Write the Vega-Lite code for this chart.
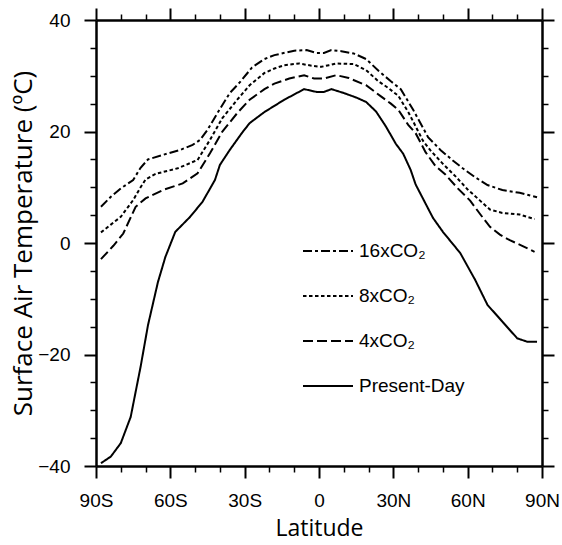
{
  "$schema": "https://vega.github.io/schema/vega-lite/v6.json",
  "width": 446,
  "height": 446,
  "autosize": "none",
  "padding": {"left": 96, "top": 20, "right": 20, "bottom": 79},
  "background": "white",
  "config": {"view": {"stroke": null}, "axis": {"grid": false, "domainColor": "black", "tickColor": "black", "labelColor": "black", "titleColor": "black"}},
  "datasets": {
    "t": [
      {"lat": -88, "T": 6.5, "s": "16xCO₂"}, {"lat": -84, "T": 8.3, "s": "16xCO₂"}, {"lat": -80, "T": 9.8, "s": "16xCO₂"}, {"lat": -75, "T": 11.3, "s": "16xCO₂"}, {"lat": -72, "T": 13.5, "s": "16xCO₂"}, {"lat": -69, "T": 15.0, "s": "16xCO₂"}, {"lat": -63, "T": 15.8, "s": "16xCO₂"}, {"lat": -56, "T": 16.7, "s": "16xCO₂"}, {"lat": -51, "T": 17.6, "s": "16xCO₂"}, {"lat": -48, "T": 18.5, "s": "16xCO₂"}, {"lat": -45, "T": 20.3, "s": "16xCO₂"}, {"lat": -41, "T": 23.3, "s": "16xCO₂"}, {"lat": -36, "T": 26.9, "s": "16xCO₂"}, {"lat": -32, "T": 28.8, "s": "16xCO₂"}, {"lat": -27, "T": 31.5, "s": "16xCO₂"}, {"lat": -22, "T": 33.0, "s": "16xCO₂"}, {"lat": -18, "T": 33.7, "s": "16xCO₂"}, {"lat": -10, "T": 34.5, "s": "16xCO₂"}, {"lat": -5, "T": 34.6, "s": "16xCO₂"}, {"lat": -1, "T": 34.1, "s": "16xCO₂"}, {"lat": 2, "T": 34.1, "s": "16xCO₂"}, {"lat": 5, "T": 34.6, "s": "16xCO₂"}, {"lat": 9, "T": 34.4, "s": "16xCO₂"}, {"lat": 14, "T": 34.0, "s": "16xCO₂"}, {"lat": 19, "T": 33.0, "s": "16xCO₂"}, {"lat": 24, "T": 30.9, "s": "16xCO₂"}, {"lat": 29, "T": 29.0, "s": "16xCO₂"}, {"lat": 33, "T": 27.6, "s": "16xCO₂"}, {"lat": 38, "T": 23.9, "s": "16xCO₂"}, {"lat": 44, "T": 19.0, "s": "16xCO₂"}, {"lat": 49, "T": 16.7, "s": "16xCO₂"}, {"lat": 54, "T": 14.8, "s": "16xCO₂"}, {"lat": 58, "T": 13.4, "s": "16xCO₂"}, {"lat": 63, "T": 11.8, "s": "16xCO₂"}, {"lat": 68, "T": 10.4, "s": "16xCO₂"}, {"lat": 74, "T": 9.5, "s": "16xCO₂"}, {"lat": 81, "T": 9.0, "s": "16xCO₂"}, {"lat": 88, "T": 8.2, "s": "16xCO₂"},

      {"lat": -88, "T": 1.9, "s": "8xCO₂"}, {"lat": -84, "T": 3.3, "s": "8xCO₂"}, {"lat": -80, "T": 4.7, "s": "8xCO₂"}, {"lat": -75, "T": 7.7, "s": "8xCO₂"}, {"lat": -72, "T": 10.0, "s": "8xCO₂"}, {"lat": -70, "T": 11.4, "s": "8xCO₂"}, {"lat": -66, "T": 12.4, "s": "8xCO₂"}, {"lat": -57, "T": 13.4, "s": "8xCO₂"}, {"lat": -49, "T": 14.9, "s": "8xCO₂"}, {"lat": -44, "T": 18.5, "s": "8xCO₂"}, {"lat": -39, "T": 22.4, "s": "8xCO₂"}, {"lat": -33, "T": 25.7, "s": "8xCO₂"}, {"lat": -28, "T": 28.3, "s": "8xCO₂"}, {"lat": -22, "T": 30.5, "s": "8xCO₂"}, {"lat": -18, "T": 31.3, "s": "8xCO₂"}, {"lat": -14, "T": 31.9, "s": "8xCO₂"}, {"lat": -8, "T": 32.2, "s": "8xCO₂"}, {"lat": -3, "T": 31.8, "s": "8xCO₂"}, {"lat": 1, "T": 31.6, "s": "8xCO₂"}, {"lat": 4, "T": 31.9, "s": "8xCO₂"}, {"lat": 7, "T": 32.2, "s": "8xCO₂"}, {"lat": 14, "T": 32.1, "s": "8xCO₂"}, {"lat": 19, "T": 31.0, "s": "8xCO₂"}, {"lat": 24, "T": 29.0, "s": "8xCO₂"}, {"lat": 28, "T": 27.8, "s": "8xCO₂"}, {"lat": 32, "T": 26.4, "s": "8xCO₂"}, {"lat": 36, "T": 23.5, "s": "8xCO₂"}, {"lat": 38, "T": 21.8, "s": "8xCO₂"}, {"lat": 42, "T": 18.3, "s": "8xCO₂"}, {"lat": 45, "T": 16.6, "s": "8xCO₂"}, {"lat": 50, "T": 14.2, "s": "8xCO₂"}, {"lat": 55, "T": 12.0, "s": "8xCO₂"}, {"lat": 60, "T": 9.6, "s": "8xCO₂"}, {"lat": 65, "T": 7.6, "s": "8xCO₂"}, {"lat": 69, "T": 6.0, "s": "8xCO₂"}, {"lat": 74, "T": 5.4, "s": "8xCO₂"}, {"lat": 81, "T": 5.1, "s": "8xCO₂"}, {"lat": 87, "T": 4.3, "s": "8xCO₂"},

      {"lat": -88, "T": -2.9, "s": "4xCO₂"}, {"lat": -83, "T": -0.5, "s": "4xCO₂"}, {"lat": -79, "T": 1.7, "s": "4xCO₂"}, {"lat": -74, "T": 6.5, "s": "4xCO₂"}, {"lat": -70, "T": 8.0, "s": "4xCO₂"}, {"lat": -63, "T": 9.5, "s": "4xCO₂"}, {"lat": -55, "T": 10.7, "s": "4xCO₂"}, {"lat": -49, "T": 12.5, "s": "4xCO₂"}, {"lat": -44, "T": 16.1, "s": "4xCO₂"}, {"lat": -39, "T": 20.0, "s": "4xCO₂"}, {"lat": -33, "T": 23.3, "s": "4xCO₂"}, {"lat": -28, "T": 25.7, "s": "4xCO₂"}, {"lat": -22, "T": 27.6, "s": "4xCO₂"}, {"lat": -18, "T": 28.6, "s": "4xCO₂"}, {"lat": -12, "T": 29.5, "s": "4xCO₂"}, {"lat": -6, "T": 30.1, "s": "4xCO₂"}, {"lat": -2, "T": 29.5, "s": "4xCO₂"}, {"lat": 2, "T": 29.5, "s": "4xCO₂"}, {"lat": 7, "T": 30.1, "s": "4xCO₂"}, {"lat": 12, "T": 29.6, "s": "4xCO₂"}, {"lat": 19, "T": 28.3, "s": "4xCO₂"}, {"lat": 25, "T": 26.3, "s": "4xCO₂"}, {"lat": 29, "T": 25.0, "s": "4xCO₂"}, {"lat": 32, "T": 23.9, "s": "4xCO₂"}, {"lat": 36, "T": 21.2, "s": "4xCO₂"}, {"lat": 39, "T": 19.7, "s": "4xCO₂"}, {"lat": 43, "T": 16.3, "s": "4xCO₂"}, {"lat": 47, "T": 13.8, "s": "4xCO₂"}, {"lat": 51, "T": 12.3, "s": "4xCO₂"}, {"lat": 56, "T": 9.8, "s": "4xCO₂"}, {"lat": 61, "T": 7.6, "s": "4xCO₂"}, {"lat": 65, "T": 5.2, "s": "4xCO₂"}, {"lat": 69, "T": 2.9, "s": "4xCO₂"}, {"lat": 73, "T": 1.5, "s": "4xCO₂"}, {"lat": 77, "T": 0.5, "s": "4xCO₂"}, {"lat": 82, "T": -0.5, "s": "4xCO₂"}, {"lat": 87, "T": -1.6, "s": "4xCO₂"},

      {"lat": -88, "T": -39.5, "s": "Present-Day"}, {"lat": -84, "T": -38.3, "s": "Present-Day"}, {"lat": -80, "T": -35.9, "s": "Present-Day"}, {"lat": -76, "T": -31.2, "s": "Present-Day"}, {"lat": -72, "T": -22.2, "s": "Present-Day"}, {"lat": -69, "T": -14.7, "s": "Present-Day"}, {"lat": -65, "T": -7.0, "s": "Present-Day"}, {"lat": -62, "T": -2.5, "s": "Present-Day"}, {"lat": -58, "T": 2.0, "s": "Present-Day"}, {"lat": -52, "T": 4.7, "s": "Present-Day"}, {"lat": -47, "T": 7.4, "s": "Present-Day"}, {"lat": -42, "T": 11.3, "s": "Present-Day"}, {"lat": -40, "T": 14.0, "s": "Present-Day"}, {"lat": -36, "T": 16.7, "s": "Present-Day"}, {"lat": -31, "T": 19.8, "s": "Present-Day"}, {"lat": -28, "T": 21.5, "s": "Present-Day"}, {"lat": -22, "T": 23.5, "s": "Present-Day"}, {"lat": -14, "T": 25.7, "s": "Present-Day"}, {"lat": -6, "T": 27.6, "s": "Present-Day"}, {"lat": -1, "T": 27.1, "s": "Present-Day"}, {"lat": 2, "T": 27.1, "s": "Present-Day"}, {"lat": 5, "T": 27.6, "s": "Present-Day"}, {"lat": 10, "T": 26.9, "s": "Present-Day"}, {"lat": 15, "T": 26.1, "s": "Present-Day"}, {"lat": 19, "T": 25.3, "s": "Present-Day"}, {"lat": 23, "T": 23.6, "s": "Present-Day"}, {"lat": 27, "T": 20.9, "s": "Present-Day"}, {"lat": 31, "T": 17.8, "s": "Present-Day"}, {"lat": 34, "T": 16.0, "s": "Present-Day"}, {"lat": 37, "T": 13.1, "s": "Present-Day"}, {"lat": 39, "T": 10.5, "s": "Present-Day"}, {"lat": 46, "T": 4.5, "s": "Present-Day"}, {"lat": 50, "T": 2.0, "s": "Present-Day"}, {"lat": 57, "T": -1.8, "s": "Present-Day"}, {"lat": 63, "T": -6.6, "s": "Present-Day"}, {"lat": 68, "T": -11.1, "s": "Present-Day"}, {"lat": 74, "T": -14.1, "s": "Present-Day"}, {"lat": 80, "T": -17.1, "s": "Present-Day"}, {"lat": 84, "T": -17.7, "s": "Present-Day"}, {"lat": 88, "T": -17.7, "s": "Present-Day"}
    ]
  },
  "data": {"name": "t"},
  "resolve": {"axis": {"x": "independent", "y": "independent"}},
  "layer": [
    {
      "mark": {"type": "point", "opacity": 0},
      "encoding": {
        "x": {"field": "lat", "type": "quantitative", "scale": {"domain": [-90, 90], "nice": false, "zero": false},
          "axis": {"orient": "top", "values": [-80, -70, -50, -40, -20, -10, 10, 20, 40, 50, 70, 80], "tickSize": 6, "tickWidth": 1.5, "labels": false, "domain": false, "title": null}},
        "y": {"field": "T", "type": "quantitative", "scale": {"domain": [-40, 40], "nice": false, "zero": false},
          "axis": {"orient": "right", "values": [-35, -30, -25, -15, -10, -5, 5, 10, 15, 25, 30, 35], "tickSize": 6, "tickWidth": 1.5, "labels": false, "domain": false, "title": null}}
      }
    },
    {
      "mark": {"type": "point", "opacity": 0},
      "encoding": {
        "x": {"field": "lat", "type": "quantitative",
          "axis": {"orient": "bottom", "values": [-80, -70, -50, -40, -20, -10, 10, 20, 40, 50, 70, 80], "tickSize": 6, "tickWidth": 1.5, "labels": false, "domain": false, "title": null}},
        "y": {"field": "T", "type": "quantitative",
          "axis": {"orient": "left", "values": [-35, -30, -25, -15, -10, -5, 5, 10, 15, 25, 30, 35], "tickSize": 6, "tickWidth": 1.5, "labels": false, "domain": false, "title": null}}
      }
    },
    {
      "mark": {"type": "point", "opacity": 0},
      "encoding": {
        "x": {"field": "lat", "type": "quantitative",
          "axis": {"orient": "top", "values": [-90, -60, -30, 0, 30, 60, 90], "tickSize": 12, "tickWidth": 2, "domainWidth": 2.5, "labels": false, "title": null}},
        "y": {"field": "T", "type": "quantitative",
          "axis": {"orient": "right", "values": [-40, -20, 0, 20, 40], "tickSize": 12, "tickWidth": 2, "domainWidth": 2.5, "labels": false, "title": null}}
      }
    },
    {
      "mark": {"type": "line", "strokeWidth": 2, "color": "black"},
      "encoding": {
        "x": {"field": "lat", "type": "quantitative",
          "axis": {"orient": "bottom", "values": [-90, -60, -30, 0, 30, 60, 90], "tickSize": 12, "tickWidth": 2, "domainWidth": 2.5,
            "labelExpr": "datum.value == 0 ? '0' : (datum.value < 0 ? (-datum.value) + 'S' : datum.value + 'N')",
            "labelFont": "Liberation Sans", "labelFontSize": 19, "labelPadding": 13, "labelFlush": false, "labelOverlap": false, "labelBound": false,
            "title": "Latitude", "titleFont": "Open Sans", "titleFontSize": 23, "titleFontWeight": "normal", "titlePadding": 7}},
        "y": {"field": "T", "type": "quantitative",
          "axis": {"orient": "left", "values": [-40, -20, 0, 20, 40], "tickSize": 12, "tickWidth": 2, "domainWidth": 2.5,
            "labelFont": "Liberation Sans", "labelFontSize": 19, "labelPadding": 14, "labelFlush": false, "labelOverlap": false, "labelBound": false,
            "title": "Surface Air Temperature (ºC)", "titleFont": "Open Sans", "titleFontSize": 26, "titleFontWeight": "normal", "titlePadding": 1}},
        "strokeDash": {"field": "s", "type": "nominal",
          "scale": {"domain": ["16xCO₂", "8xCO₂", "4xCO₂", "Present-Day"], "range": [[9, 3, 3, 3], [3.5, 2.5], [10, 4], [1, 0]]},
          "legend": {"orient": "none", "legendX": 206, "legendY": 205, "title": null, "padding": 0,
            "symbolType": "stroke", "symbolSize": 2500, "symbolStrokeWidth": 2, "symbolStrokeColor": "black",
            "labelFont": "Liberation Sans", "labelFontSize": 19, "labelColor": "black", "labelOffset": 5, "rowPadding": 9}}
      }
    }
  ]
}
